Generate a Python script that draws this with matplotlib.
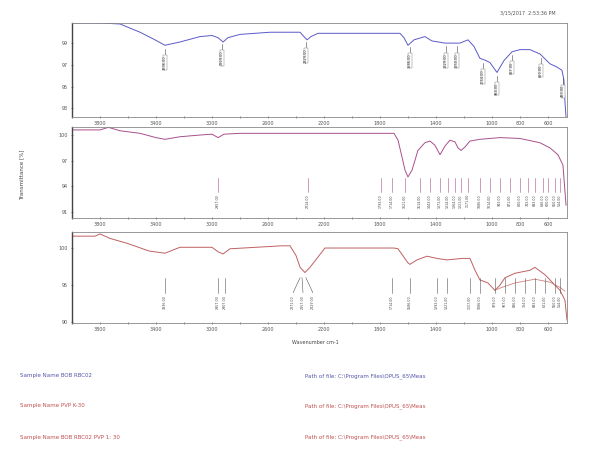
import numpy as np
import matplotlib.pyplot as plt
from matplotlib.ticker import MultipleLocator, FixedLocator

# spectrum 1 (blue) - BOB RBC02
wn1 = [4000, 3800, 3657, 3514, 3407, 3336, 3229, 3086, 3000, 2957, 2921, 2886, 2800, 2586,
       2371, 2343, 2321, 2293, 2243, 1657, 1629, 1600, 1557, 1479, 1429, 1336, 1229, 1171,
       1129, 1086, 1043, 1014, 964, 914, 857, 800, 729, 657, 586, 536, 500, 486, 479, 471]
t1 = [100.85, 100.85, 100.76, 100.0, 99.3, 98.8, 99.1, 99.6, 99.7, 99.5, 99.1, 99.5, 99.8, 100.0,
      100.0, 99.6, 99.3, 99.6, 99.9, 99.9, 99.5, 98.8, 99.3, 99.6, 99.2, 99.0, 99.0, 99.3,
      98.7, 97.6, 97.4, 97.2, 96.3, 97.4, 98.2, 98.4, 98.4, 98.0, 97.1, 96.8, 96.5, 95.6, 93.7, 92.2]

# spectrum 2 (purple) - PVP K-30
wn2 = [4000, 3800, 3740, 3657, 3514, 3400, 3336, 3229, 3086, 3000, 2957, 2914, 2800, 2500,
       2000, 1700, 1671, 1621, 1600, 1571, 1529, 1479, 1443, 1407, 1371, 1336, 1300, 1264,
       1243, 1221, 1193, 1157, 1086, 943, 800, 657, 586, 529, 493, 471]
t2 = [100.6, 100.6, 100.9, 100.5, 100.2, 99.7, 99.5, 99.8, 100.0, 100.1, 99.7, 100.1, 100.2, 100.2,
      100.2, 100.2, 99.4, 95.9, 95.1, 95.9, 98.2, 99.1, 99.3, 98.8, 97.7, 98.7, 99.4, 99.2,
      98.5, 98.2, 98.6, 99.3, 99.5, 99.7, 99.6, 99.1, 98.5, 97.7, 96.5, 91.8]

# spectrum 3 (red) - BOB RBC02 PVP 1:30
wn3 = [4000, 3836, 3800, 3729, 3600, 3450, 3336, 3229, 3000, 2957, 2921, 2871, 2500, 2443,
       2400, 2371, 2336, 2300, 2193, 1700, 1671, 1600, 1586, 1536, 1464, 1393, 1321, 1214,
       1157, 1121, 1086, 1029, 979, 943, 907, 836, 729, 693, 621, 550, 514, 479, 464]
t3 = [101.6, 101.6, 101.9, 101.3, 100.6, 99.6, 99.3, 100.1, 100.1, 99.5, 99.2, 99.9, 100.3, 100.3,
      99.0, 97.4, 96.7, 97.4, 100.0, 100.0, 99.9, 98.0, 97.8, 98.4, 98.9, 98.6, 98.4, 98.6,
      98.6, 97.0, 95.7, 95.3, 94.3, 95.0, 96.0, 96.6, 97.0, 97.4, 96.4, 95.0, 94.3, 93.0, 90.3]
wn3b = [979, 943, 836, 693, 586, 514, 479]
t3b = [94.3, 94.6, 95.3, 95.8, 95.4, 94.7, 94.2]

peaks1 = [3336, 2929, 2329, 1586, 1329, 1250, 1064, 964, 857, 650, 493]
peaks2 = [2957, 2314, 1793, 1714, 1621, 1514, 1443, 1371, 1314, 1264, 1221, 1171, 1086,
          1014, 943, 871, 800, 743, 693, 636, 600, 550, 514]
peaks3 = [3336, 2957, 2907, 2371, 2357, 2329, 1714, 1586, 1393, 1321, 1157, 1086, 979,
          907, 836, 764, 693, 621, 550, 514]
# where the peak labels of panel 3 sit (spread where peaks crowd)
peaks3_txt = [3336, 2957, 2907, 2420, 2350, 2280, 1714, 1586, 1393, 1321, 1157, 1086, 979,
              907, 836, 764, 693, 621, 550, 514]

xticks = [3800, 3400, 3000, 2600, 2200, 1800, 1400, 1000, 800, 600]

fig = plt.figure(figsize=(5.92, 4.49), dpi=100)
plt.rcParams['font.family'] = 'DejaVu Sans'

pos = [[72/592, 1-117/449, 495/592, 94/449],
       [72/592, 1-218/449, 495/592, 91/449],
       [72/592, 1-323/449, 495/592, 91/449]]
colors = ['#5a5ac8', '#a8508c', '#c06060']
ylims = [(92.2, 100.85), (90.3, 100.94), (89.9, 102.16)]
yticks = [[93, 95, 97, 99], [91, 94, 97, 100], [90, 95, 100]]

axes = []
for i in range(3):
    ax = fig.add_axes(pos[i])
    ax.set_xlim(4000, 464)
    ax.set_ylim(*ylims[i])
    ax.xaxis.set_major_locator(FixedLocator(xticks))
    ax.xaxis.set_minor_locator(MultipleLocator(200))
    ax.set_yticks(yticks[i])
    ax.tick_params(axis='both', which='both', labelsize=3.5, length=2, width=0.5,
                   direction='inout', colors='#555555', pad=2)
    for s in ax.spines.values():
        s.set_color('#888888')
        s.set_linewidth(0.6)
    ax.spines['left'].set_color('#444444')
    ax.spines['left'].set_linewidth(1.0)
    axes.append(ax)

ax1, ax2, ax3 = axes
ax1.plot(wn1, t1, color=colors[0], lw=0.7)
ax2.plot(wn2, t2, color=colors[1], lw=0.7)
ax3.plot(wn3, t3, color=colors[2], lw=0.7)
ax3.plot(wn3b, t3b, color='#d08080', lw=0.6)

# peak markers
for p in peaks1:
    y = np.interp(p, wn1[::-1], t1[::-1])
    ax1.plot([p, p], [y - 0.3, y - 0.8], color='#444444', lw=0.4)
    ax1.text(p, y - 0.9, f"{p:.2f}", rotation=90, fontsize=2.5, ha='center', va='top',
             color='#333333', bbox=dict(boxstyle='square,pad=0.1', fc='white', ec='#777777', lw=0.3))
for p in peaks2:
    ax2.plot([p, p], [95.0, 93.3], color=colors[1], lw=0.4)
    ax2.text(p, 93.1, f"{p:.2f}", rotation=90, fontsize=2.3, ha='center', va='top', color='#444444')
for p, tx in zip(peaks3, peaks3_txt):
    ax3.plot([p, tx], [96.0, 94.0], color='#555555', lw=0.4)
    ax3.text(tx, 93.6, f"{p:.2f}", rotation=90, fontsize=2.3, ha='center', va='top', color='#444444')

fig.text(315/592, 1-342/449, 'Wavenumber cm-1', fontsize=3.5, ha='center', va='center', color='#444444')
fig.text(22/592, 1-175/449, 'Transmittance [%]', fontsize=4, rotation=90, ha='center', va='center',
         color='#444444')
fig.text(500/592, 1-13/449, '3/15/2017  2:53:36 PM', fontsize=3.5, ha='left', va='center', color='#555555')

# sample info rows
left_txt = ['Sample Name BOB RBC02', 'Sample Name PVP K-30', 'Sample Name BOB RBC02 PVP 1: 30']
right_txt = ['Path of file: C:\\Program Files\\OPUS_65\\Meas'] * 3
row_y = [376, 406, 437]
row_col = ['#5555aa', '#c05050', '#c05050']
for ty, lt, rt, c in zip(row_y, left_txt, right_txt, row_col):
    fig.text(20/592, 1-ty/449, lt, fontsize=4, color=c, va='center')
    fig.text(305/592, 1-ty/449, rt, fontsize=4, color=c, va='center')

fig.savefig('out.png', dpi=100)
